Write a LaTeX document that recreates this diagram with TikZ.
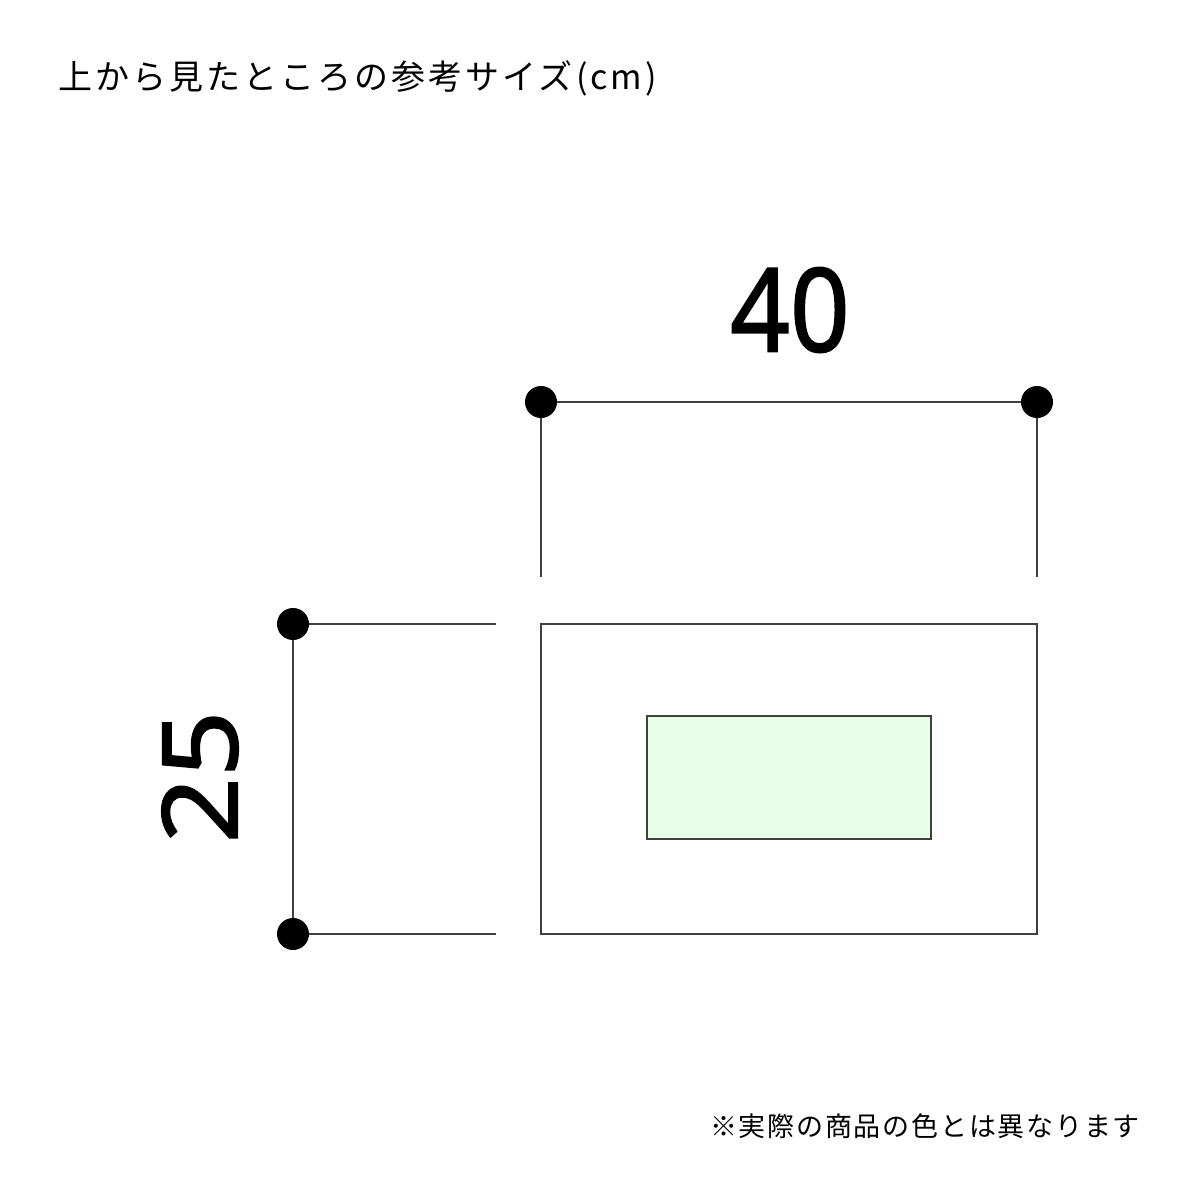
\documentclass[tikz,border=0pt]{standalone}
\usepackage{fontspec}
\newfontfamily\jpfont{Noto Sans CJK JP}
\newfontfamily\titlefont[LetterSpace=9]{Noto Sans CJK JP}
\newfontfamily\notefont[LetterSpace=6.5]{Noto Sans CJK JP}
\newfontfamily\numfont[FakeBold=1.5]{Noto Sans}
\definecolor{linegray}{HTML}{404040}
\definecolor{paleGreen}{HTML}{E6FFE6}
\begin{document}
\begin{tikzpicture}[x=1pt,y=-1pt,
  dimline/.style={draw=linegray,line width=1.3pt},
  dotnode/.style={circle,fill=black,inner sep=0pt,minimum size=32pt},
  bigdigits/.style={font=\numfont\fontsize{116}{116}\selectfont,inner sep=0pt}]
\useasboundingbox (0,0) rectangle (1200,1200);
\node[anchor=west,inner sep=0pt,font=\titlefont\fontsize{34}{34}\selectfont] (title) at (58,78) {上から見たところの参考サイズ(cm)};
\node[anchor=east,inner sep=0pt,font=\notefont\fontsize{27}{27}\selectfont] (note) at (1140,1126) {※実際の商品の色とは異なります};
% top dimension
\coordinate (t1c) at (541,402);
\coordinate (t2c) at (1037,402);
\coordinate (t1e) at (541,577);
\coordinate (t2e) at (1037,577);
\draw[dimline] (t1c) -- (t2c);
\draw[dimline] (t1c) -- (t1e);
\draw[dimline] (t2c) -- (t2e);
\node[dotnode] (t1) at (t1c) {};
\node[dotnode] (t2) at (t2c) {};
\node[bigdigits,xscale=0.9] (w) at (790,310) {40};
% left dimension
\coordinate (l1c) at (293,624);
\coordinate (l2c) at (293,934);
\coordinate (l1e) at (496,624);
\coordinate (l2e) at (496,934);
\draw[dimline] (l1c) -- (l2c);
\draw[dimline] (l1c) -- (l1e);
\draw[dimline] (l2c) -- (l2e);
\node[dotnode] (l1) at (l1c) {};
\node[dotnode] (l2) at (l2c) {};
\node[bigdigits,xscale=0.9,rotate=90] (h) at (200,777) {25};
% body
\draw[dimline] (541,624) rectangle (1037,934);
\draw[dimline,fill=paleGreen] (647,716) rectangle (931,839);
\end{tikzpicture}
\end{document}
